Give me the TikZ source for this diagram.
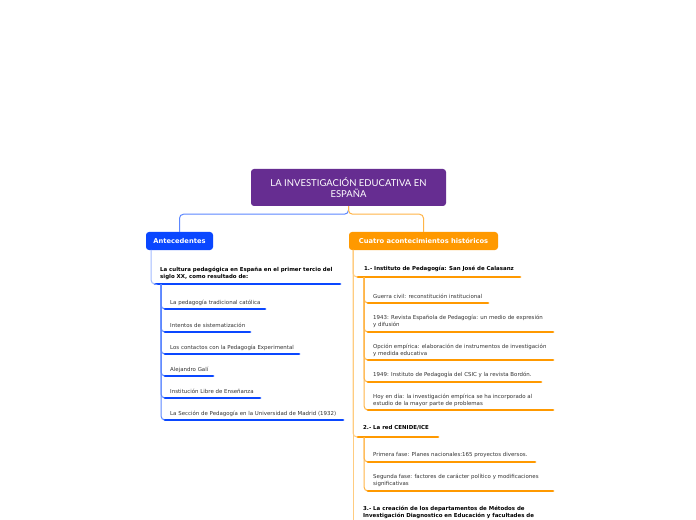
\documentclass[tikz,border=0pt]{standalone}
\usepackage{fontspec}
\setmainfont{DejaVu Sans}
\newfontfamily\titlefont{Lato}
\definecolor{tpurple}{HTML}{662D91}
\definecolor{mblue}{HTML}{0A47FF}
\definecolor{morange}{HTML}{FF9900}
\definecolor{lblue}{HTML}{A3BBFF}
\definecolor{cblue}{HTML}{5C87FF}
\definecolor{corange}{HTML}{FFB547}
\definecolor{porange}{HTML}{FFCC80}
\definecolor{txtgray}{HTML}{333333}
\tikzset{
  x=1bp,y=-1bp,
  titlebox/.style={fill=tpurple,rounded corners=3bp,minimum width=195bp,minimum height=37bp,text=white,align=center,inner sep=0pt,font=\titlefont\fontsize{9.5bp}{11bp}\selectfont},
  mainbox/.style={rounded corners=3bp,minimum height=18bp,text=white,inner sep=0pt,font=\fontsize{6.7bp}{8bp}\selectfont\bfseries},
  itemtxt/.style={anchor=west,inner sep=0pt,text=txtgray,align=left,font=\fontsize{5.45bp}{7bp}\selectfont},
  headtxt/.style={anchor=west,inner sep=0pt,text=black,align=left,font=\fontsize{5.45bp}{7bp}\selectfont\bfseries},
  bline/.style={draw=mblue,line width=2.8bp,line cap=round},
  oline/.style={draw=morange,line width=2.8bp,line cap=round},
  bconn/.style={draw=cblue,line width=1bp,rounded corners=4bp},
  lbconn/.style={draw=lblue,line width=1bp,rounded corners=4bp},
  oconn/.style={draw=corange,line width=1bp,rounded corners=4bp},
  poconn/.style={draw=porange,line width=1bp,rounded corners=4bp},
}
\begin{document}
\begin{tikzpicture}
\clip (0,0) rectangle (696,520);
\fill[white] (0,0) rectangle (696,520);
% title and main branches
\node[titlebox] (t) at (348.5,187.5) {LA INVESTIGACIÓN EDUCATIVA EN\\ESPAÑA};
\node[mainbox,fill=mblue,minimum width=67bp] (ant) at (179.5,241) {Antecedentes};
\node[mainbox,fill=morange,minimum width=149bp] (cua) at (423.5,241) {Cuatro acontecimientos históricos};
\draw[bconn] (t.south) -- ++(0,8) -| (ant.north);
\draw[oconn] (t.south) -- ++(0,8) -| (cua.north);

% ---------- left branch ----------
\node[headtxt] (cult) at (160,273.5) {La cultura pedagógica en España en el primer tercio del\\siglo XX, como resultado de:};
\coordinate (cultA) at (155,284); \coordinate (cultB) at (340,284);
\draw[bline] (cultA) -- (cultB);
\coordinate (a0) at (151,250);
\draw[lbconn] (a0) |- (cultA);

\node[itemtxt] (l1) at (170,303) {La pedagogía tradicional católica};
\node[itemtxt] (l2) at (170,325.5) {Intentos de sistematización};
\node[itemtxt] (l3) at (170,347.5) {Los contactos con la Pedagogía Experimental};
\node[itemtxt] (l4) at (170,369.5) {Alejandro Galí};
\node[itemtxt] (l5) at (170,391.5) {Institución Libre de Enseñanza};
\node[itemtxt] (l6) at (170,413.5) {La Sección de Pedagogía en la Universidad de Madrid (1932)};
\coordinate (l1a) at (165,309); \coordinate (l1b) at (265,309);
\coordinate (l2a) at (165,332); \coordinate (l2b) at (250,332);
\coordinate (l3a) at (165,354); \coordinate (l3b) at (299,354);
\coordinate (l4a) at (165,376); \coordinate (l4b) at (213,376);
\coordinate (l5a) at (165,398); \coordinate (l5b) at (260,398);
\coordinate (l6a) at (165,420); \coordinate (l6b) at (343,420);
\coordinate (c0) at (161,284);
\foreach \i in {1,...,6}{
  \draw[bconn] (c0) |- (l\i a);
  \draw[bline] (l\i a) -- (l\i b);
}

% ---------- right branch ----------
\coordinate (r0) at (353,250);
\coordinate (rend) at (353,530);
\draw[poconn] (r0) -- (rend);

\node[headtxt] (h1) at (364,269) {1.- Instituto de Pedagogía: San José de Calasanz};
\coordinate (h1a) at (358,277); \coordinate (h1b) at (520,277);
\draw[poconn] (r0) |- (h1a);
\draw[oline] (h1a) -- (h1b);

\node[itemtxt] (ra) at (373,296) {Guerra civil: reconstitución institucional};
\node[itemtxt] (rb) at (373,321.5) {1943: Revista Española de Pedagogía: un medio de expresión\\y difusión};
\node[itemtxt] (rc) at (373,350.5) {Opción empírica: elaboración de instrumentos de investigación\\y medida educativa};
\node[itemtxt] (rd) at (373,375) {1949: Instituto de Pedagogía del CSIC y la revista Bordón.};
\node[itemtxt] (re) at (373,400.5) {Hoy en día: la investigación empírica se ha incorporado al\\estudio de la mayor parte de problemas};
\coordinate (raa) at (368,303); \coordinate (rab) at (488,303);
\coordinate (rba) at (368,332); \coordinate (rbb) at (553,332);
\coordinate (rca) at (368,360); \coordinate (rcb) at (553,360);
\coordinate (rda) at (368,382); \coordinate (rdb) at (541,382);
\coordinate (rea) at (368,410); \coordinate (reb) at (553,410);
\coordinate (s1) at (364,277);
\foreach \k in {a,b,c,d,e}{
  \draw[oconn] (s1) |- (r\k a);
  \draw[oline] (r\k a) -- (r\k b);
}

\node[headtxt] (h2) at (363,428) {2.- La red CENIDE/ICE};
\coordinate (h2a) at (358,437); \coordinate (h2b) at (438,437);
\draw[poconn] (r0) |- (h2a);
\draw[oline] (h2a) -- (h2b);

\node[itemtxt] (rf) at (373,455) {Primera fase: Planes nacionales:165 proyectos diversos.};
\node[itemtxt] (rg) at (373,480.5) {Segunda fase: factores de carácter político y modificaciones\\significativas};
\coordinate (rfa) at (368,462); \coordinate (rfb) at (535,462);
\coordinate (rga) at (368,491); \coordinate (rgb) at (553,491);
\coordinate (s2) at (364,437);
\foreach \k in {f,g}{
  \draw[oconn] (s2) |- (r\k a);
  \draw[oline] (r\k a) -- (r\k b);
}

\node[headtxt] (h3) at (363,512.5) {3.- La creación de los departamentos de Métodos de\\Investigación Diagnostico en Educación y facultades de};
\end{tikzpicture}
\end{document}
